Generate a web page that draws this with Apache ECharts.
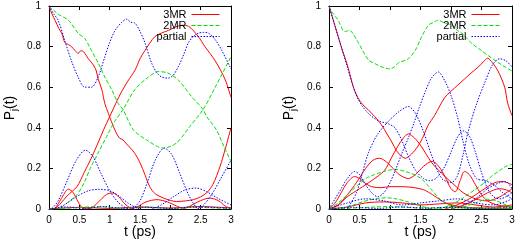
<!DOCTYPE html>
<html><head><meta charset="utf-8">
<script src="https://cdn.jsdelivr.net/npm/echarts@6/dist/echarts.min.js"></script>
<style>html,body{margin:0;padding:0;background:#fff}#c{width:517px;height:241px}</style>
</head><body><div id="c"></div>
<script>
// ---- tick labels / axis ranges ----
const xTicks = [0, 0.5, 1, 1.5, 2, 2.5, 3];
const yTicks = [0, 0.2, 0.4, 0.6, 0.8, 1];
const seriesNames = ['3MR', '2MR', 'partial'];

// ---- LEFT PANEL: 3MR (red) ----
const L_red1 = [[0,1],[0.05,0.96],[0.1,0.93],[0.16,0.89],[0.21,0.866],[0.26,0.82],[0.32,0.81],[0.37,0.8],[0.43,0.78],[0.48,0.767],[0.53,0.78],[0.57,0.775],[0.65,0.74],[0.73,0.71],[0.78,0.68],[0.81,0.64],[0.87,0.59],[0.92,0.52],[0.98,0.47],[1.03,0.43],[1.1,0.38],[1.16,0.35],[1.22,0.34],[1.28,0.32],[1.4,0.28],[1.5,0.228],[1.58,0.17],[1.66,0.11],[1.75,0.075],[1.88,0.055],[2.0,0.042],[2.1,0.037],[2.25,0.04],[2.38,0.046],[2.5,0.06],[2.6,0.08],[2.7,0.12],[2.82,0.21],[2.9,0.29],[3.0,0.4]];
const L_red2 = [[0,0],[0.1,0.003],[0.2,0.03],[0.3,0.065],[0.46,0.11],[0.58,0.18],[0.68,0.24],[0.8,0.32],[0.9,0.39],[1.0,0.455],[1.1,0.52],[1.2,0.58],[1.3,0.63],[1.42,0.685],[1.5,0.74],[1.58,0.78],[1.75,0.85],[1.97,0.88],[2.19,0.905],[2.3,0.9],[2.46,0.85],[2.57,0.8],[2.74,0.73],[2.9,0.64],[3.0,0.55]];
const L_red3 = [[0,0],[0.1,0.005],[0.2,0.05],[0.32,0.098],[0.4,0.08],[0.48,0.035],[0.55,0.005],[0.6,0]];
const L_red4 = [[0.6,0],[0.7,0.005],[0.8,0.03],[0.95,0.072],[1.05,0.079],[1.15,0.06],[1.25,0.025],[1.35,0.003],[1.4,0]];
const L_red5 = [[1.35,0],[1.45,0.01],[1.6,0.035],[1.78,0.046],[1.95,0.035],[2.1,0.015],[2.2,0.003]];
const L_red6 = [[2.2,0],[2.3,0.01],[2.45,0.035],[2.65,0.054],[2.8,0.04],[2.9,0.015],[3.0,0.003]];
const L_red7 = [[0,0],[0.5,0.008],[1,0.003],[1.5,0.01],[2,0.005],[2.5,0.012],[3,0.005]];

// ---- LEFT PANEL: 2MR (green) ----
const L_grn1 = [[0,1],[0.15,0.96],[0.32,0.93],[0.48,0.866],[0.59,0.84],[0.7,0.78],[0.81,0.72],[0.92,0.65],[1.03,0.59],[1.14,0.52],[1.22,0.49],[1.39,0.39],[1.61,0.34],[1.88,0.3],[2.1,0.325],[2.32,0.406],[2.54,0.49],[2.74,0.6],[3.0,0.75]];
const L_grn2 = [[0,0],[0.16,0.003],[0.3,0.03],[0.46,0.07],[0.58,0.13],[0.68,0.2],[0.8,0.27],[0.95,0.357],[1.08,0.43],[1.22,0.49],[1.42,0.59],[1.64,0.65],[1.8,0.677],[1.96,0.67],[2.13,0.636],[2.35,0.554],[2.54,0.49],[2.6,0.455],[2.76,0.39],[2.88,0.31],[3,0.234]];
const L_grn3 = [[0,0],[0.4,0.005],[0.8,0.012],[1.2,0.004],[1.6,0.01],[2,0.003],[2.4,0.008],[3,0.002]];

// ---- LEFT PANEL: partial (blue) ----
const L_blu1 = [[0,1],[0.08,0.96],[0.15,0.93],[0.26,0.83],[0.37,0.73],[0.48,0.65],[0.59,0.6],[0.7,0.6],[0.81,0.65],[0.92,0.75],[1.0,0.82],[1.09,0.88],[1.2,0.92],[1.28,0.935],[1.35,0.92],[1.42,0.915],[1.5,0.875],[1.58,0.82],[1.69,0.72],[1.78,0.67],[1.86,0.65],[1.97,0.645],[2.05,0.66],[2.13,0.7],[2.22,0.76],[2.3,0.82],[2.38,0.85],[2.46,0.866],[2.55,0.87],[2.63,0.866],[2.75,0.83],[2.85,0.78],[3,0.69]];
const L_blu2 = [[0,0],[0.05,0.003],[0.15,0.04],[0.3,0.14],[0.45,0.24],[0.6,0.29],[0.72,0.26],[0.85,0.18],[1.0,0.09],[1.15,0.03],[1.28,0.003],[1.32,0]];
const L_blu3 = [[1.38,0],[1.5,0.04],[1.62,0.13],[1.75,0.24],[1.9,0.3],[2.02,0.27],[2.15,0.18],[2.3,0.07],[2.42,0.01],[2.47,0]];
const L_blu4 = [[2.45,0],[2.55,0.02],[2.7,0.08],[2.85,0.16],[3.0,0.24]];
const L_blu5 = [[0.1,0],[0.25,0.02],[0.45,0.06],[0.65,0.09],[0.84,0.097],[1.0,0.09],[1.15,0.065],[1.3,0.03],[1.45,0.005],[1.52,0]];
const L_blu6 = [[1.7,0],[1.85,0.02],[2.05,0.06],[2.25,0.095],[2.43,0.103],[2.6,0.085],[2.8,0.05],[3.0,0.02]];
const L_blu7 = [[0,0],[0.3,0.01],[0.6,0.003],[0.9,0.012],[1.2,0.004],[1.6,0.008],[2,0.003],[2.4,0.01],[3,0.004]];

// ---- RIGHT PANEL: 3MR (red) ----
const R_red1 = [[0,1],[0.05,0.95],[0.1,0.9],[0.2,0.8],[0.3,0.71],[0.4,0.6],[0.47,0.55],[0.55,0.515],[0.64,0.49],[0.75,0.455],[0.86,0.415],[0.95,0.37],[1.03,0.33],[1.1,0.29],[1.17,0.265],[1.25,0.25],[1.35,0.27],[1.46,0.31],[1.55,0.36],[1.62,0.41],[1.73,0.46],[1.82,0.51],[1.9,0.55],[2.0,0.58],[2.11,0.61],[2.22,0.64],[2.33,0.67],[2.45,0.7],[2.53,0.725],[2.6,0.743],[2.68,0.72],[2.77,0.68],[2.88,0.6],[2.93,0.52],[3,0.46]];
const R_red2 = [[0,0],[0.15,0.02],[0.3,0.06],[0.5,0.1],[0.7,0.14],[0.91,0.19],[1.02,0.25],[1.13,0.31],[1.22,0.35],[1.3,0.37],[1.4,0.35],[1.51,0.31],[1.68,0.23],[1.9,0.16],[2.05,0.12],[2.2,0.08],[2.4,0.05],[2.6,0.04],[2.8,0.06],[3,0.1]];
const R_red3 = [[0,0],[0.1,0.03],[0.2,0.08],[0.3,0.13],[0.42,0.16],[0.5,0.15],[0.58,0.13],[0.7,0.11],[0.85,0.105],[1.0,0.11],[1.2,0.11],[1.4,0.105],[1.55,0.095],[1.7,0.07],[1.85,0.04],[2.0,0.02],[2.2,0.01],[2.5,0.005],[3,0.003]];
const R_red4 = [[0,0],[0.15,0.02],[0.3,0.07],[0.45,0.13],[0.6,0.2],[0.72,0.24],[0.83,0.25],[0.95,0.23],[1.05,0.2],[1.15,0.17],[1.3,0.15],[1.42,0.17],[1.55,0.21],[1.69,0.235],[1.8,0.21],[1.9,0.16],[2.0,0.1],[2.07,0.085],[2.15,0.14],[2.22,0.185],[2.3,0.17],[2.4,0.12],[2.5,0.07],[2.6,0.04],[2.75,0.02],[3,0.01]];
const R_red5 = [[0,0],[0.3,0.01],[0.6,0.03],[0.9,0.035],[1.2,0.03],[1.5,0.02],[1.8,0.025],[2.1,0.03],[2.4,0.02],[2.7,0.01],[3,0.02]];
const R_red6 = [[1.9,0],[2.1,0.02],[2.3,0.05],[2.5,0.09],[2.72,0.13],[2.85,0.135],[3,0.12]];
const R_red7 = [[2.0,0],[2.3,0.03],[2.6,0.08],[2.8,0.1],[2.9,0.095],[3,0.08]];

// ---- RIGHT PANEL: 2MR (green) ----
const R_grn1 = [[0,1],[0.05,0.97],[0.15,0.93],[0.26,0.874],[0.34,0.88],[0.4,0.86],[0.48,0.82],[0.59,0.76],[0.66,0.73],[0.73,0.72],[0.86,0.7],[1.0,0.69],[1.07,0.7],[1.14,0.72],[1.3,0.74],[1.41,0.78],[1.49,0.83],[1.52,0.85],[1.63,0.906],[1.72,0.92],[1.79,0.93],[1.9,0.915],[2.01,0.906],[2.1,0.88],[2.18,0.866],[2.34,0.816],[2.5,0.78],[2.67,0.743],[2.83,0.71],[2.97,0.685],[3,0.68]];
const R_grn2 = [[0,0],[0.15,0.03],[0.3,0.07],[0.48,0.12],[0.6,0.15],[0.75,0.17],[0.9,0.185],[1.08,0.195],[1.25,0.185],[1.46,0.16],[1.58,0.13],[1.68,0.095],[1.8,0.055],[1.9,0.03],[2.0,0.015],[2.2,0.005],[2.5,0.003],[3,0.002]];
const R_grn3 = [[0,0],[0.2,0.005],[0.4,0.02],[0.6,0.04],[0.8,0.052],[0.95,0.055],[1.1,0.05],[1.3,0.035],[1.5,0.015],[1.65,0.003],[1.8,0]];
const R_grn4 = [[1.8,0],[2.0,0.02],[2.2,0.055],[2.39,0.095],[2.55,0.13],[2.66,0.16],[2.8,0.19],[2.9,0.21],[3,0.22]];
const R_grn5 = [[2.0,0],[2.2,0.01],[2.4,0.03],[2.6,0.048],[2.75,0.04],[2.9,0.02],[3,0.01]];
const R_grn6 = [[0,0],[0.5,0.006],[1,0.012],[1.5,0.005],[2,0.008],[2.5,0.004],[3,0.01]];

// ---- RIGHT PANEL: partial (blue) ----
const R_blu1 = [[0,1],[0.05,0.95],[0.1,0.9],[0.2,0.8],[0.3,0.7],[0.4,0.6],[0.48,0.54],[0.55,0.505],[0.65,0.47],[0.75,0.445],[0.85,0.43],[0.97,0.42],[1.08,0.4],[1.19,0.34],[1.3,0.26],[1.42,0.19],[1.55,0.15],[1.65,0.14],[1.75,0.15],[1.88,0.2],[2.0,0.28],[2.1,0.35],[2.2,0.385],[2.3,0.36],[2.4,0.28],[2.5,0.18],[2.6,0.1],[2.7,0.06],[2.8,0.05],[2.9,0.06],[3,0.08]];
const R_blu2 = [[0,0],[0.1,0.05],[0.2,0.1],[0.3,0.15],[0.42,0.185],[0.5,0.17],[0.6,0.12],[0.7,0.08],[0.8,0.06],[0.9,0.08],[1.0,0.13],[1.1,0.2],[1.19,0.27],[1.3,0.35],[1.4,0.43],[1.48,0.5],[1.58,0.58],[1.68,0.645],[1.79,0.675],[1.9,0.63],[2.0,0.56],[2.1,0.46],[2.2,0.33],[2.3,0.22],[2.42,0.15],[2.55,0.14],[2.7,0.12],[2.85,0.08],[3,0.05]];
const R_blu3 = [[0.3,0],[0.45,0.08],[0.55,0.18],[0.65,0.28],[0.8,0.37],[1.0,0.44],[1.15,0.48],[1.3,0.505],[1.42,0.47],[1.55,0.38],[1.7,0.25],[1.85,0.15],[2.0,0.13],[2.1,0.16],[2.2,0.27],[2.28,0.38],[2.41,0.51],[2.55,0.62],[2.68,0.71],[2.8,0.74],[2.9,0.73],[3,0.7]];
const R_blu4 = [[0,0],[0.3,0.03],[0.6,0.05],[0.9,0.04],[1.2,0.02],[1.5,0.03],[1.8,0.04],[2.1,0.05],[2.4,0.03],[2.7,0.02],[3,0.05]];
const R_blu5 = [[2.2,0.02],[2.4,0.05],[2.6,0.1],[2.8,0.13],[2.9,0.135],[3,0.1]];
const R_blu6 = [[0,0],[0.4,0.008],[0.8,0.003],[1.2,0.01],[1.6,0.004],[2,0.009],[2.4,0.003],[3,0.006]];

const RED = '#ff0000', GREEN = '#00e000', BLUE = '#0000ff';
const FONT = 'Liberation Sans, Arial, sans-serif';

function mk(name, data, color, dash, panel) {
  return {
    name: name, type: 'line', data: data, xAxisIndex: panel, yAxisIndex: panel,
    symbol: 'none', showSymbol: false, smooth: 0.3, silent: true, animation: false,
    lineStyle: { color: color, width: 1, type: dash }, itemStyle: { color: color }
  };
}

const groups = [
  [0, [L_red1, L_red2, L_red3, L_red4, L_red5, L_red6, L_red7], [L_grn1, L_grn2, L_grn3], [L_blu1, L_blu2, L_blu3, L_blu4, L_blu5, L_blu6, L_blu7]],
  [1, [R_red1, R_red2, R_red3, R_red4, R_red5, R_red6, R_red7], [R_grn1, R_grn2, R_grn3, R_grn4, R_grn5, R_grn6], [R_blu1, R_blu2, R_blu3, R_blu4, R_blu5, R_blu6]]
];
const series = [];
groups.forEach(function (g) {
  const p = g[0];
  g[1].forEach(function (d) { series.push(mk(seriesNames[0], d, RED, 'solid', p)); });
  g[2].forEach(function (d) { series.push(mk(seriesNames[1], d, GREEN, [4, 2], p)); });
  g[3].forEach(function (d) { series.push(mk(seriesNames[2], d, BLUE, [1.5, 1.5], p)); });
});

const grids = [
  { left: 49, top: 6, width: 182, height: 203, containLabel: false, outerBoundsMode: 'none' },
  { left: 329, top: 6, width: 183, height: 203, containLabel: false, outerBoundsMode: 'none' }
];
function xa(gi, main) {
  return {
    type: 'value', gridIndex: gi, min: xTicks[0], max: xTicks[xTicks.length - 1], interval: 0.5,
    position: main ? 'bottom' : 'top',
    axisLine: { onZero: false, lineStyle: { color: '#000', width: 1 } },
    axisTick: { inside: true, length: 4, lineStyle: { color: '#000' } },
    axisLabel: { show: main, color: '#000', fontSize: 10, fontFamily: FONT, margin: 6 },
    splitLine: { show: false },
    name: main ? 't (ps)' : '', nameLocation: 'middle', nameGap: 16, nameMoveOverlap: false,
    nameTextStyle: { color: '#000', fontSize: 14, fontFamily: FONT, verticalAlign: 'top' }
  };
}
function ya(gi, main) {
  return {
    type: 'value', gridIndex: gi, min: yTicks[0], max: yTicks[yTicks.length - 1], interval: 0.2,
    position: main ? 'left' : 'right',
    axisLine: { onZero: false, lineStyle: { color: '#000', width: 1 } },
    axisTick: { inside: true, length: 4, lineStyle: { color: '#000' } },
    axisLabel: { show: main, color: '#000', fontSize: 10, fontFamily: FONT, margin: 8 },
    splitLine: { show: false }
  };
}
function lg(right) {
  return {
    data: seriesNames, orient: 'vertical', align: 'right', right: right, top: 9,
    itemWidth: 28, itemHeight: 8, itemGap: 0, padding: 0,
    itemStyle: { opacity: 0 },
    lineStyle: { width: 1 },
    textStyle: { color: '#000', fontSize: 11, fontFamily: FONT, lineHeight: 10 },
    selectedMode: false
  };
}
const yName = '{a|P}{b|j}{a|(t)}';
function yTitle(cx) {
  return {
    type: 'text', x: cx, y: 108, rotation: Math.PI / 2, silent: true,
    style: { text: yName, align: 'center', verticalAlign: 'middle', fill: '#000', fontFamily: FONT,
      rich: {
        a: { fontSize: 14, fontFamily: FONT, fill: '#000', lineHeight: 18, verticalAlign: 'middle' },
        b: { fontSize: 9, fontFamily: FONT, fill: '#000', lineHeight: 18, verticalAlign: 'bottom' } } }
  };
}

const chart = echarts.init(document.getElementById('c'), null, { renderer: 'canvas' });
chart.setOption({
  backgroundColor: '#fff',
  animation: false,
  grid: grids,
  xAxis: [xa(0, true), xa(1, true), xa(0, false), xa(1, false)],
  yAxis: [ya(0, true), ya(1, true), ya(0, false), ya(1, false)],
  legend: [lg(297), lg(17)],
  graphic: [yTitle(10), yTitle(289)],
  series: series
});
</script></body></html>
